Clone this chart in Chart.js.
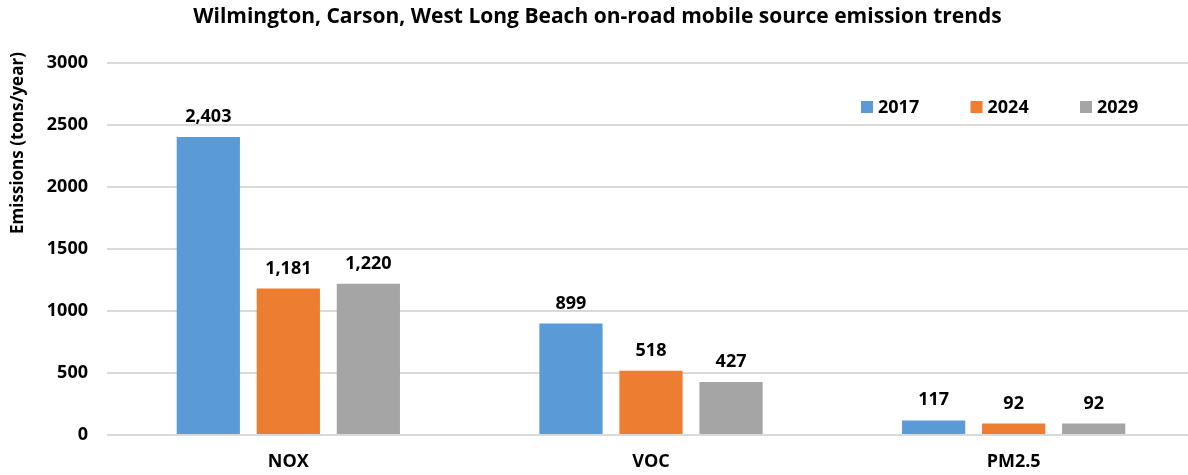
<!DOCTYPE html>
<html><head><meta charset="utf-8">
<script src="https://cdn.jsdelivr.net/npm/chart.js@4/dist/chart.umd.min.js"></script>
<style>
html,body{margin:0;padding:0;background:#fff;overflow:hidden;}
#wrap{width:1196px;height:475px;position:relative;}
</style></head><body>
<div id="wrap"><canvas id="c"></canvas></div>
<script>
const categories = ["NOX", "VOC", "PM2.5"];
const seriesNames = ["2017", "2024", "2029"];
const values2017 = [2403, 899, 117];
const values2024 = [1181, 518, 92];
const values2029 = [1220, 427, 92];
const yTicks = [0, 500, 1000, 1500, 2000, 2500, 3000];
const colors = ["#5B9BD5", "#ED7D31", "#A5A5A5"];
const yTitle = "Emissions (tons/year)";
const FONT = "'Open Sans', Lato, sans-serif";

const valueLabels = {
  id: 'valueLabels',
  afterDatasetsDraw(chart) {
    const ctx = chart.ctx;
    ctx.save();
    ctx.font = "bold 18px " + FONT;
    ctx.fillStyle = "#000";
    ctx.textAlign = "center";
    ctx.textBaseline = "alphabetic";
    chart.data.datasets.forEach((ds, i) => {
      const meta = chart.getDatasetMeta(i);
      meta.data.forEach((bar, j) => {
        ctx.fillText(ds.data[j].toLocaleString('en-US'), bar.x, bar.y - 15);
      });
    });
    ctx.restore();
  }
};

const insideLegend = {
  id: 'insideLegend',
  afterDraw(chart) {
    const ctx = chart.ctx;
    const a = chart.chartArea;
    ctx.save();
    ctx.font = "bold 18px " + FONT;
    ctx.textBaseline = "middle";
    ctx.textAlign = "left";
    chart.data.datasets.forEach((ds, i) => {
      const x = a.right - 334 + i * 109.5;
      const y = a.top + 44;
      ctx.fillStyle = ds.backgroundColor;
      ctx.fillRect(x, y - 6, 12, 12);
      ctx.fillStyle = "#000";
      ctx.fillText(ds.label, x + 17, y + 1);
    });
    ctx.restore();
  }
};

const yAxisTitle = {
  id: 'yAxisTitle',
  afterDraw(chart) {
    const ctx = chart.ctx;
    const a = chart.chartArea;
    ctx.save();
    ctx.font = "bold 17px " + FONT;
    ctx.fillStyle = "#000";
    ctx.textAlign = "center";
    ctx.textBaseline = "middle";
    ctx.translate(18, a.top + 80);
    ctx.rotate(-Math.PI / 2);
    ctx.fillText(yTitle, 0, 0);
    ctx.restore();
  }
};

new Chart(document.getElementById('c'), {
  type: 'bar',
  data: {
    labels: categories,
    datasets: [
      { label: seriesNames[0], data: values2017, backgroundColor: colors[0] },
      { label: seriesNames[1], data: values2024, backgroundColor: colors[1] },
      { label: seriesNames[2], data: values2029, backgroundColor: colors[2] }
    ]
  },
  options: {
    responsive: true,
    maintainAspectRatio: false,
    animation: false,
    devicePixelRatio: 1,
    layout: { padding: { left: 0, right: 1, top: 0, bottom: 0 } },
    datasets: { bar: { categoryPercentage: 0.662, barPercentage: 0.79 } },
    plugins: {
      legend: { display: false },
      tooltip: { enabled: false },
      title: {
        display: true,
        text: "Wilmington, Carson, West Long Beach on-road mobile source emission trends",
        color: "#000",
        font: { family: FONT, size: 21, weight: 'bold' },
        padding: { top: 4, bottom: 33.8 }
      }
    },
    scales: {
      x: {
        grid: { display: false, drawTicks: false },
        border: { display: false },
        ticks: { color: "#000", font: { family: FONT, size: 18, weight: 'bold' }, padding: 16 },
        afterFit(s) { s.height = 40; }
      },
      y: {
        min: 0, max: 3000,
        afterBuildTicks(s) { s.ticks = yTicks.map(v => ({ value: v })); },
        grid: { color: "#D9D9D9", lineWidth: 2, drawTicks: false },
        border: { display: false },
        ticks: { color: "#000", font: { family: FONT, size: 18, weight: 'bold' }, padding: 19,
                 callback: (v) => String(v) },
        afterFit(s) { s.width = 107; }
      }
    }
  },
  plugins: [valueLabels, insideLegend, yAxisTitle]
});
</script>
</body></html>
